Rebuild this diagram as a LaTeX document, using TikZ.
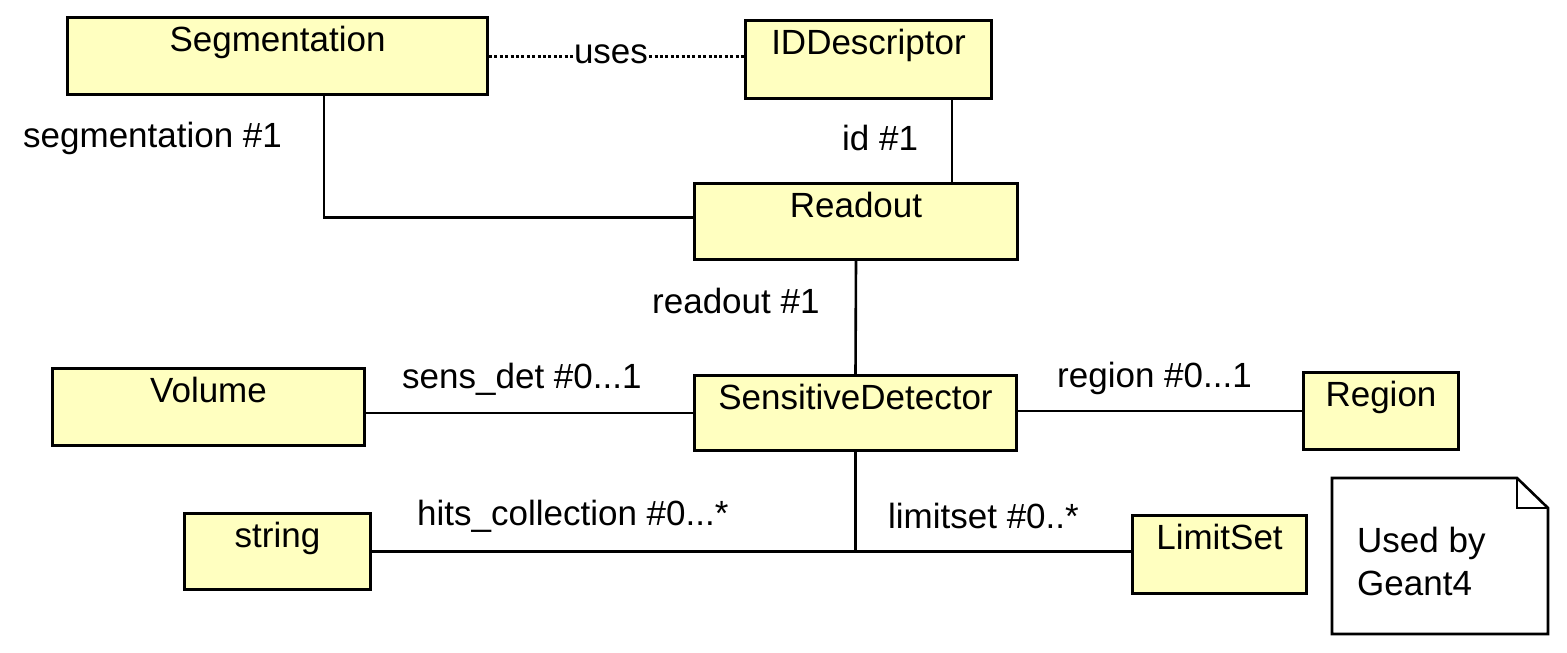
\documentclass[tikz,border=0pt]{standalone}
\usepackage{fontspec}
\setmainfont{Liberation Sans}
\definecolor{umlfill}{HTML}{FFFFC0}
\tikzset{
  umlbox/.style={draw, line width=3pt, fill=umlfill, inner xsep=0pt, inner ysep=0pt,
    text height=34pt, anchor=north west, font=\fontsize{35}{43}\selectfont},
  conn/.style={line width=2.6pt},
  lbl/.style={anchor=base west, inner sep=0pt, font=\fontsize{35}{43}\selectfont},
}
\begin{document}
\begin{tikzpicture}[x=1pt,y=-1pt]
\useasboundingbox (0,0) rectangle (1567,653);
% classes
\node[umlbox, minimum width=420pt, text depth=43pt] (seg) at (66,16) {Segmentation};
\node[umlbox, minimum width=246pt, text depth=44pt] (idd) at (744,19) {IDDescriptor};
\node[umlbox, minimum width=323pt, text depth=42pt] (readout) at (693,182) {Readout};
\node[umlbox, minimum width=312pt, text depth=43pt] (volume) at (51,367) {Volume};
\node[umlbox, minimum width=322pt, text depth=41pt] (sd) at (693,374) {SensitiveDetector};
\node[umlbox, minimum width=155pt, text depth=43pt] (region) at (1302,371) {Region};
\node[umlbox, minimum width=186pt, text depth=42pt] (string) at (183,512) {string};
\node[umlbox, minimum width=174pt, text depth=44pt] (limitset) at (1131,514) {LimitSet};
% note
\draw[line width=2.6pt, fill=white, line join=miter]
  (1332,478) -- (1517,478) -- (1548,508) -- (1548,634) -- (1332,634) -- cycle;
\draw[line width=2.6pt] (1517,478) -- (1517,508) -- (1548,508);
\node[lbl, align=left] (note) at (1357,595) {Used by\\Geant4};
% connectors
\coordinate (segdown) at (324,93);
\draw[conn] (segdown) |- ([yshift=4pt]readout.west);
\coordinate (iddown) at (952,97);
\draw[conn] (iddown) -- (iddown |- readout.north);
\draw[conn] (readout.south) -- (sd.north);
\draw[conn] (sd.west) -- (sd.west -| volume.east);
\draw[conn] (region.west -| sd.east) -- (region.west);
\coordinate (junc) at (sd.south |- string.east);
\draw[conn] (sd.south) -- (junc);
\draw[conn] (string.east) -- (string.east -| limitset.west);
% dependency
\node[lbl, anchor=base, fill=white, inner xsep=1pt] (uses) at (611,63) {uses};
\draw[line width=3pt, dash pattern=on 3pt off 2.4pt] (seg.east) -- (uses.west |- seg.east);
\draw[line width=3pt, dash pattern=on 3pt off 2.4pt] (uses.east |- seg.east) -- (seg.east -| idd.west);
% role labels
\node[lbl] (lseg) at (23,147) {segmentation \#1};
\node[lbl] (lid) at (842,150) {id \#1};
\node[lbl] (lread) at (652,313) {readout \#1};
\node[lbl] (lsens) at (402,388) {sens\_det \#0...1};
\node[lbl] (lreg) at (1057,387) {region \#0...1};
\node[lbl] (lhits) at (417,525) {hits\_collection \#0...*};
\node[lbl] (llim) at (888,528) {limitset \#0..*};
\end{tikzpicture}
\end{document}
